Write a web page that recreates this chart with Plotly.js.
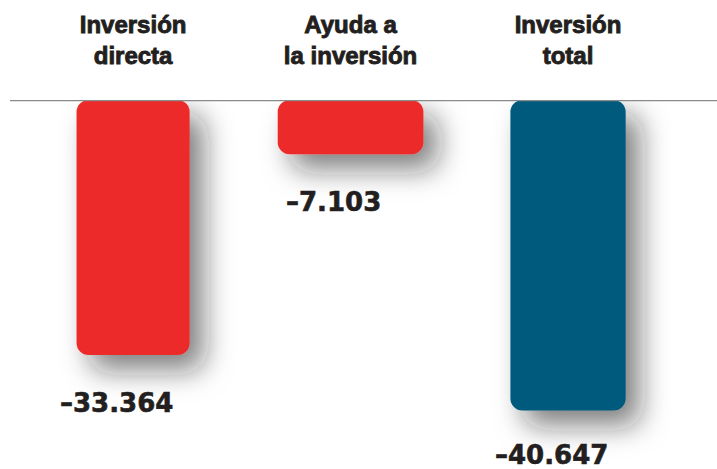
<!DOCTYPE html>
<html><head><meta charset="utf-8">
<script src="https://cdn.plot.ly/plotly-3.0.1.min.js"></script>
<style>html,body{margin:0;padding:0;background:#fff}
#chart .xtick text{stroke:#231f20;stroke-width:0.9px;}
#chart .annotation-text{stroke:#231f20;stroke-width:0.6px;}
</style>
</head><body><div id="chart" style="width:717px;height:469px"></div>
<script>
const categories = ["Inversión<br>directa", "Ayuda a<br>la inversión", "Inversión<br>total"];
const values = [-33364, -7103, -40647];
const barColors = ["#ED2A29", "#ED2A29", "#005A7D"];
const barWidths = [0.52, 0.67, 0.53];

function fmt(v) {
  const s = String(Math.abs(v)).replace(/\B(?=(\d{3})+(?!\d))/g, '.');
  return (v < 0 ? '–' : '') + s;
}

const bars = {
  type: 'bar', x: categories, width: barWidths, hoverinfo: 'skip',
  base: values, y: values.map(v => -v),
  marker: {color: barColors, cornerradius: 12, line: {width: 0}}
};

const layout = {
  width: 717, height: 469,
  margin: {l: 10, r: 0, t: 100, b: 0},
  paper_bgcolor: '#fff', plot_bgcolor: '#fff',
  showlegend: false,
  xaxis: {type: 'category', side: 'top', range: [-0.566, 2.685], showline: false, showgrid: false,
          zeroline: false, ticks: '', ticklabelstandoff: 30,
          tickfont: {family: 'Liberation Sans, Arial, sans-serif', size: 24, color: '#231f20', weight: 'bold'}},
  yaxis: {range: [-48300, 0], visible: false},
  shapes: [{type: 'line', xref: 'paper', x0: 0, x1: 1, yref: 'y', y0: 0, y1: 0,
            line: {color: '#8a8a8a', width: 2.5}, layer: 'above'}],
  annotations: values.map((v, i) => ({
    x: categories[i], y: v, xref: 'x', yref: 'y', text: fmt(v), showarrow: false,
    xanchor: 'center', yanchor: 'top', xshift: -17, yshift: (i === 2 ? -27 : -31),
    font: {family: 'DejaVu Sans', size: 26, color: '#231f20', weight: 'bold'}
  }))
};

Plotly.newPlot('chart', [bars], layout, {staticPlot: true, displayModeBar: false}).then(() => {
  const svg = document.querySelector('#chart .main-svg');
  const defs = svg.querySelector('defs');
  defs.insertAdjacentHTML('beforeend',
    '<filter id="barshadow" x="-30%" y="-30%" width="170%" height="170%">' +
    '<feGaussianBlur in="SourceAlpha" stdDeviation="14"/>' +
    '<feOffset dx="14" dy="15" result="b"/>' +
    '<feFlood flood-color="#1a1a1a" flood-opacity="0.55"/>' +
    '<feComposite in2="b" operator="in" result="s"/>' +
    '<feMerge><feMergeNode in="s"/><feMergeNode in="SourceGraphic"/></feMerge></filter>');
  document.querySelectorAll('#chart .barlayer').forEach(g => g.setAttribute('filter', 'url(#barshadow)'));
});
</script>
</body></html>
